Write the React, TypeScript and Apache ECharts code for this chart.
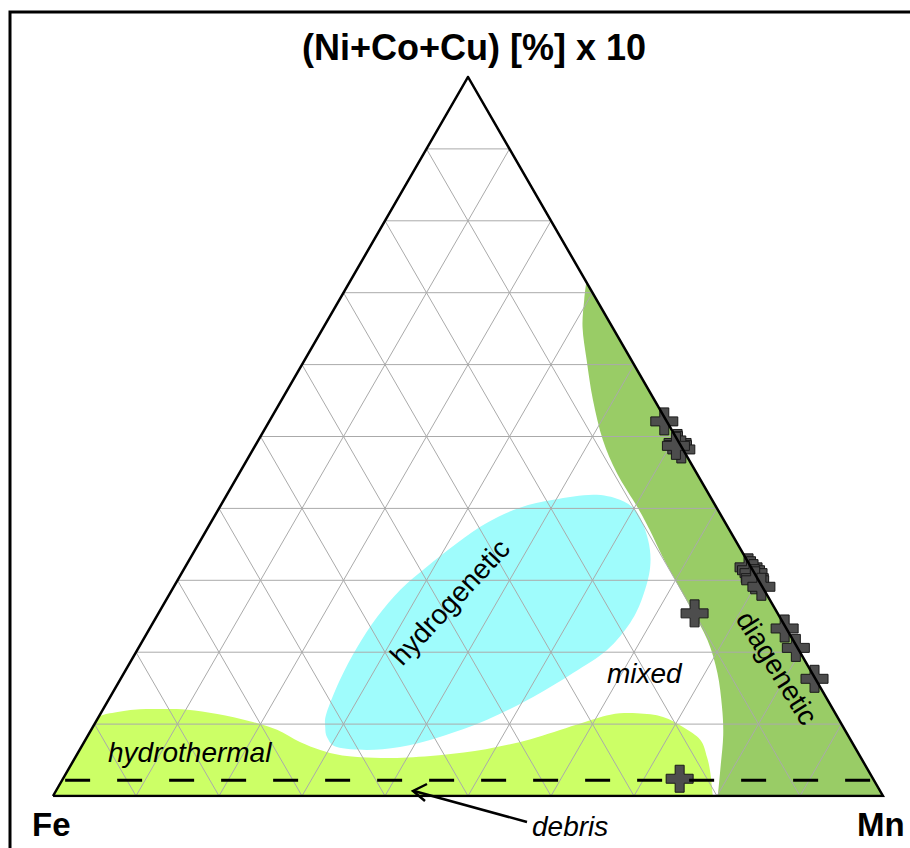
import React, { useEffect, useRef } from "react";
import * as echarts from "echarts";

const SIN60 = Math.sqrt(3) / 2;

// Nodule compositions in % (Fe, Mn, (Ni+Co+Cu) x 10), one entry per sample
const sampleFe = [0.3, 0.2, 0.3, 0.2, 0.6, 0.3, 0.2, 0.1, 0.3, 0.4, 0.1, 10.0, 0.2, 0.2, 0.1, 23.3];
const sampleMn = [47.6, 50.7, 50.9, 51.6, 50.7, 67.9, 68.4, 68.9, 69.4, 69.6, 70.8, 64.6, 76.5, 79.2, 83.6, 74.3];
const sampleNiCoCu = [52.1, 49.1, 48.8, 48.2, 48.7, 31.8, 31.4, 31.0, 30.3, 30.0, 29.1, 25.4, 23.3, 20.6, 16.3, 2.4];

// Grid ticks (%) on each ternary axis
const ternaryTicks = [10, 20, 30, 40, 50, 60, 70, 80, 90];

// Field boundaries as [Mn, (Ni+Co+Cu) x 10] in %; Fe is the remainder
const diageneticEdge = [
  [28.5, 71.5], [29.5, 69.0], [31.2, 65.2], [34.0, 60.6], [37.5, 55.1], [41.5, 49.5],
  [45.5, 44.9], [50.3, 40.2], [53.4, 37.0], [56.6, 33.5], [59.5, 30.5], [63.6, 26.3],
  [68.0, 21.7], [71.5, 17.1], [74.4, 12.4], [76.5, 8.5], [78.3, 4.3], [80.1, 0],
];
const hydrothermalEdge = [
  [0, 11.1], [1.1, 11.5], [3.7, 12.0], [6.8, 12.1], [10.2, 12.0], [14.1, 11.4],
  [18.5, 10.4], [22.4, 9.2], [26.0, 7.5], [29.0, 6.4], [31.7, 5.7], [34.4, 5.4],
  [38.8, 5.3], [44.0, 5.7], [48.9, 6.5], [53.6, 7.9], [58.1, 9.9], [61.5, 11.3],
  [64.6, 11.5], [68.0, 11.0], [71.1, 9.6], [74.1, 7.8], [76.1, 5.4], [77.6, 3.2], [79.5, 0],
];
const hydrogeneticEdge = [
  [28.0, 9.6], [27.2, 11.5], [26.5, 16.1], [26.3, 20.7], [26.6, 24.9], [27.5, 28.7],
  [29.1, 31.9], [31.1, 35.2], [33.3, 38.0], [36.2, 40.1], [39.7, 41.2], [44.1, 41.9],
  [47.7, 41.2], [50.7, 39.4], [53.9, 35.6], [56.0, 31.9], [57.2, 27.7], [57.5, 24.1],
  [56.6, 20.3], [54.1, 17.1], [51.0, 13.8], [47.0, 10.6], [42.5, 8.2], [38.4, 6.8],
  [34.6, 6.4], [30.8, 6.8], [29.0, 8.1],
];

// Lower limit of the debris-influenced zone, (Ni+Co+Cu) x 10 in %
const debrisLimit = 2.2;

const FONT = '"Liberation Sans", Arial, Helvetica, sans-serif';
const TOP_Z = 100;

// ternary [Mn, top] -> cartesian (Fe corner at origin, Mn corner at x = 100)
function toXY(mn: number, top: number): number[] {
  return [mn + top / 2, top * SIN60];
}

function splinePath(pts: number[][], closed: boolean): string {
  const n = pts.length;
  const get = (i: number) =>
    closed ? pts[(i + n) % n] : pts[Math.max(0, Math.min(n - 1, i))];
  let d = `M${pts[0][0]},${pts[0][1]}`;
  const segs = closed ? n : n - 1;
  for (let i = 0; i < segs; i++) {
    const p0 = get(i - 1), p1 = get(i), p2 = get(i + 1), p3 = get(i + 2);
    const c1x = p1[0] + (p2[0] - p0[0]) / 6;
    const c1y = p1[1] + (p2[1] - p0[1]) / 6;
    const c2x = p2[0] - (p3[0] - p1[0]) / 6;
    const c2y = p2[1] - (p3[1] - p1[1]) / 6;
    d += ` C${c1x},${c1y} ${c2x},${c2y} ${p2[0]},${p2[1]}`;
  }
  return d;
}

function fieldSeries(edge: number[][], tail: number[][] | null, closed: boolean, color: string) {
  return {
    type: "custom",
    coordinateSystem: "cartesian2d",
    silent: true,
    data: [[0, 0]],
    renderItem: (_p: any, api: any) => {
      const pts = edge.map((e) => api.coord(toXY(e[0], e[1])));
      let d = splinePath(pts, closed);
      if (tail) {
        tail.forEach((t) => {
          const c = api.coord(toXY(t[0], t[1]));
          d += ` L${c[0]},${c[1]}`;
        });
      }
      d += " Z";
      return { type: "path", shape: { pathData: d }, style: { fill: color, stroke: "none" } };
    },
  };
}

function label(text: string, x: number, y: number, opts: any = {}) {
  const { deg = 0, italic = false, bold = false, size = 28, align = "left" } = opts;
  return {
    type: "text",
    z: TOP_Z,
    x,
    y,
    rotation: (deg * Math.PI) / 180,
    style: {
      text,
      fontFamily: FONT,
      fontSize: size,
      fontStyle: italic ? "italic" : "normal",
      fontWeight: bold ? "bold" : "normal",
      fill: "#000",
      align,
      verticalAlign: "middle",
    },
  };
}

export default function App() {
  const ref = useRef<HTMLDivElement>(null);

  useEffect(() => {
    if (!ref.current) return;
    const chart = echarts.init(ref.current, undefined, { renderer: "svg" });

    // grid segments, each [x1, y1, x2, y2]
    const gridSegs: number[][] = [];
    ternaryTicks.forEach((k) => {
      const a = toXY(0, k), b = toXY(100 - k, k); // constant top
      gridSegs.push([...a, ...b]);
      const c = toXY(k, 0), d = toXY(k, 100 - k); // constant Mn
      gridSegs.push([...c, ...d]);
      const e = toXY(100 - k, 0), f = toXY(0, 100 - k); // constant Fe
      gridSegs.push([...e, ...f]);
    });

    const samples = sampleFe.map((fe, i) => {
      const s = fe + sampleMn[i] + sampleNiCoCu[i];
      return toXY((sampleMn[i] / s) * 100, (sampleNiCoCu[i] / s) * 100);
    });

    const plus = "path://M3,0H6V3H9V6H6V9H3V6H0V3H3Z";

    chart.setOption({
      animation: false,
      grid: { left: 53, right: 27, top: 77, bottom: 52 },
      xAxis: { type: "value", min: 0, max: 100, show: false },
      yAxis: { type: "value", min: 0, max: 100 * SIN60, show: false },
      series: [
        fieldSeries(hydrogeneticEdge, null, true, "#9ffcfc"),
        fieldSeries(hydrothermalEdge, [[0, 0]], false, "#ccff66"),
        fieldSeries(diageneticEdge, [[100, 0]], false, "#99cc66"),
        {
          type: "custom",
          coordinateSystem: "cartesian2d",
          silent: true,
          data: gridSegs,
          renderItem: (_p: any, api: any) => {
            const a = api.coord([api.value(0), api.value(1)]);
            const b = api.coord([api.value(2), api.value(3)]);
            return {
              type: "line",
              shape: { x1: a[0], y1: a[1], x2: b[0], y2: b[1] },
              style: { stroke: "#aaaaaa", lineWidth: 1 },
            };
          },
        },
        {
          type: "line",
          silent: true,
          symbol: "none",
          data: [toXY(0, debrisLimit), toXY(100 - debrisLimit, debrisLimit)],
          lineStyle: { color: "#000", width: 3, type: [25, 27], dashOffset: -3 },
        },
        {
          type: "line",
          silent: true,
          symbol: "none",
          data: [toXY(0, 0), toXY(100, 0), toXY(0, 100), toXY(0, 0)],
          lineStyle: { color: "#000", width: 2.5, join: "miter" },
        },
        {
          type: "scatter",
          data: samples,
          symbol: plus,
          symbolSize: 27,
          itemStyle: { color: "#4d4d4d", borderColor: "#1a1a1a", borderWidth: 1, opacity: 1 },
        },
      ],
      graphic: [
        {
          type: "rect",
          z: TOP_Z,
          shape: { x: 10, y: 12, width: 930, height: 870 },
          style: { fill: "none", stroke: "#000", lineWidth: 3 },
        },
        label("(Ni+Co+Cu) [%] x 10", 474, 47, { bold: true, size: 36, align: "center" }),
        label("Fe", 32, 824, { bold: true, size: 33 }),
        label("Mn", 857, 824, { bold: true, size: 33 }),
        label("hydrothermal", 108, 752, { italic: true }),
        label("mixed", 607, 673, { italic: true }),
        label("debris", 532, 826, { italic: true }),
        label("hydrogenetic", 450, 602, { deg: 47, align: "center" }),
        label("diagenetic", 777, 668, { deg: -58, align: "center" }),
        {
          type: "polyline",
          z: TOP_Z,
          shape: { points: [[527, 822], [414, 791]] },
          style: { stroke: "#000", lineWidth: 2.5, fill: null },
        },
        {
          type: "polyline",
          z: TOP_Z,
          shape: { points: [[427, 784], [413, 791], [425, 801]] },
          style: { stroke: "#000", lineWidth: 2.5, fill: null },
        },
      ],
    });

    return () => chart.dispose();
  }, []);

  return (
    <div
      ref={ref}
      style={{ position: "absolute", left: 0, top: 0, width: 910, height: 848, background: "#fff" }}
    />
  );
}
